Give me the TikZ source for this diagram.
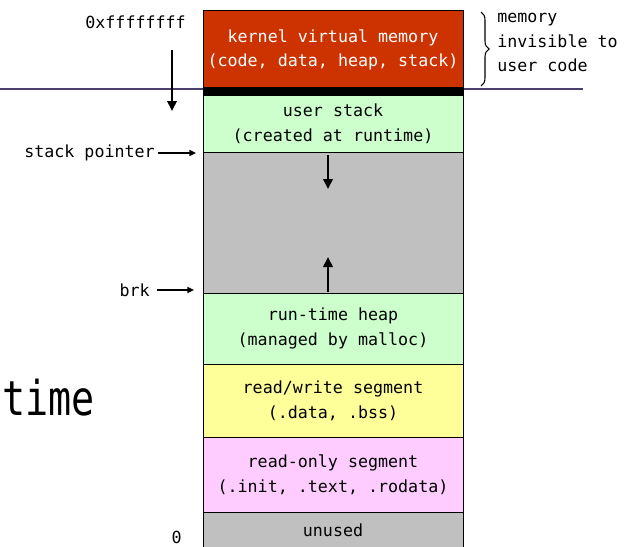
\documentclass[tikz,border=0pt]{standalone}
\usepackage{fontspec}
\setmonofont{DejaVu Sans Mono}
\newfontfamily\bigmono[FakeStretch=0.8]{DejaVu Sans Mono}
\usetikzlibrary{arrows.meta, decorations.pathreplacing}
\definecolor{kernelred}{HTML}{CC3300}
\definecolor{stackgreen}{HTML}{CCFFCC}
\definecolor{gapgray}{HTML}{C0C0C0}
\definecolor{rwyellow}{HTML}{FFFF99}
\definecolor{ropink}{HTML}{FFCCFF}
\definecolor{linepurple}{HTML}{4B3F6E}
\newcommand{\segfont}{\ttfamily\fontsize{12.5}{18.5}\selectfont}

\begin{document}
\begin{tikzpicture}[x=0.75pt, y=-0.75pt,
        seg/.style={draw=black, line width=0.75pt, minimum width=195pt, inner sep=0pt, text centered, align=center, font=\segfont},
        lbl/.style={inner sep=0pt, font=\segfont},
        ptr/.style={-{Triangle[length=5pt, width=4.5pt]}, line width=1.1pt},
        bigptr/.style={-{Triangle[length=7.5pt, width=7pt]}, line width=2.2pt}]
      \useasboundingbox (0,0) rectangle (624,546);

      % boundary between kernel and user space
      \coordinate (lineL) at (0,89);
      \coordinate (lineR) at (583,89);
      \draw[linepurple, line width=1.1pt] (lineL) -- (lineR);

      % memory segments
      \node[seg, fill=kernelred, text=white, minimum height=60pt] (kernel) at (333,50) {kernel virtual memory\\(code, data, heap, stack)};
      \node[seg, fill=black, minimum height=6pt] (band) at (333,91) {};
      \node[seg, fill=stackgreen, minimum height=42.75pt] (ustack) at (333,123.5) {user stack\\(created at runtime)};
      \node[seg, fill=gapgray, minimum height=105.75pt] (gap) at (333,222.5) {};
      \node[seg, fill=stackgreen, minimum height=53.25pt] (heap) at (333,328.5) {run-time heap\\(managed by malloc)};
      \node[seg, fill=rwyellow, minimum height=54.75pt] (rw) at (333,400.5) {read/write segment\\(.data, .bss)};
      \node[seg, fill=ropink, minimum height=56.25pt] (ro) at (333,474.5) {read-only segment\\(.init, .text, .rodata)};
      \node[seg, fill=gapgray, minimum height=27pt] (unused) at (333,530) {unused};

      % growth arrows
      \coordinate (sgrow) at (328,189);
      \coordinate (hgrow) at (328,257);
      \draw[bigptr] (328,155) -- (sgrow);
      \draw[bigptr] (328,292) -- (hgrow);

      % addresses and pointers
      \node[lbl, anchor=east] (top) at (186,22) {0xffffffff};
      \node[lbl, anchor=east] (zero) at (182,537) {0};
      \coordinate (topend) at (172,111);
      \draw[bigptr] (172,50) -- (topend);
      \node[lbl, anchor=east] (sp) at (155,153) {stack pointer};
      \coordinate (spend) at (196,153);
      \draw[ptr] ([xshift=2.25pt]sp.east) -- (spend);
      \node[lbl, anchor=east] (brk) at (150,290) {brk};
      \coordinate (brkend) at (194,290);
      \draw[ptr] ([xshift=5pt]brk.east) -- (brkend);

      % kernel note
      \coordinate (braceT) at (481,12);
      \coordinate (braceB) at (481,86);
      \draw[decorate, decoration={brace, amplitude=6pt}, line width=0.8pt] (braceT) -- (braceB);
      \node[lbl, anchor=north west, align=left] (note) at (497,13) {memory\\invisible to\\user code};

      \node[inner sep=0pt, anchor=base west, font=\bigmono\fontsize{36}{42}\selectfont] (time) at (2,415) {time};
    \end{tikzpicture}
\end{document}
